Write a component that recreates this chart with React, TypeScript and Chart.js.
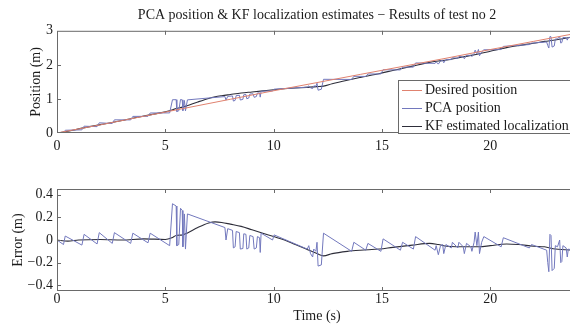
import React, { useEffect, useRef } from 'react';
import { Chart, registerables } from 'chart.js';

Chart.register(...registerables);

// ---------- texts ----------
const titleText = 'PCA position & KF localization estimates \u2212 Results of test no 2';
const seriesNames = ['Desired position', 'PCA position', 'KF estimated localization'];
const positionAxisTitle = 'Position (m)';
const errorAxisTitle = 'Error (m)';
const timeAxisTitle = 'Time (s)';

// ---------- ticks ----------
const timeTicks = [0, 5, 10, 15, 20];
const positionTicks = [0, 1, 2, 3];
const positionTickLabels = ['0', '1', '2', '3'];
const errorTicks = [-0.4, -0.2, 0, 0.2, 0.4];
const errorTickLabels = ['\u22120.4', '\u22120.2', '0', '0.2', '0.4'];

// ---------- data ----------
const desiredTimes = [0, 2, 4, 6, 8, 10, 12, 14, 16, 18, 20, 22, 24];
const desiredPositions = [0, 0.24, 0.49, 0.74, 0.99, 1.24, 1.48, 1.72, 1.96, 2.2, 2.45, 2.69, 2.93];

// PCA position error (PCA - desired)
const pcaErrTimes = [
  0, 0.3, 0.38, 1.15, 1.25, 1.85, 1.95, 2.55, 2.65, 3.4, 3.5, 4.2, 4.3, 5.2,
  5.33, 5.5, 5.53, 5.62, 5.7, 5.78, 5.81, 5.88, 5.93, 6.02, 7.75, 7.8, 7.88,
  8.1, 8.14, 8.22, 8.27, 8.42, 8.46, 8.58, 8.62, 8.72, 8.76, 8.85, 8.9, 9.05,
  9.1, 9.2, 9.25, 9.35, 9.38, 9.42, 9.95, 10.02, 11.55, 11.62, 11.7, 11.8,
  11.85, 11.95, 12.0, 12.05, 12.2, 12.3, 13.6, 13.7, 14.25, 14.35, 14.95,
  15.05, 15.85, 15.95, 16.45, 16.55, 17.45, 17.5, 17.6, 17.7, 17.8, 17.85,
  17.95, 18.2, 18.25, 18.5, 18.55, 18.75, 18.8, 18.9, 19.1, 19.15, 19.25,
  19.3, 19.38, 19.45, 19.5, 19.6, 19.7, 20.5, 20.6, 21.8, 21.9, 22.6, 22.65,
  22.7, 22.75, 22.8, 22.85, 22.95, 23.0, 23.1, 23.2, 23.25, 23.3, 23.35,
  23.5, 23.55, 23.6, 24,
];
const pcaErrValues = [
  0, -0.04, 0.035, -0.045, 0.05, -0.035, 0.065, -0.03, 0.065, -0.03, 0.06, -0.025, 0.06, -0.05,
  0.32, 0.3, -0.05, -0.04, 0.28, 0.26, -0.06, 0.23, -0.08, 0.23, 0.11, 0.0, 0.1,
  0.085, -0.07, -0.06, 0.075, 0.065, -0.08, -0.075, 0.055, 0.05, -0.08, -0.07, 0.04, 0.03,
  -0.08, -0.07, 0.03, 0.02, -0.11, 0.06, 0.0, 0.045, -0.08, -0.05, -0.12, -0.15,
  -0.08, -0.1, -0.02, -0.23, -0.22, 0.06, -0.1, -0.02, -0.09, -0.03, -0.1,
  0.01, -0.09, -0.02, -0.08, 0.03, -0.09, -0.05, -0.13, -0.05, -0.04, -0.12,
  -0.04, -0.07, -0.02, -0.07, -0.02, -0.06, -0.12, -0.03, -0.06, -0.1, -0.02,
  0.07, -0.05, 0.07, -0.12, -0.02, 0.03, -0.06, 0.02, -0.07, -0.04, -0.09, -0.2,
  -0.28, 0.05, 0.04, -0.27, -0.25, -0.05, -0.06, 0.0, -0.2, -0.19, -0.05,
  -0.07, -0.15, -0.08, -0.1,
];

// KF estimate error (KF - desired)
const kfErrTimes = [
  0, 0.5, 1, 2, 3, 4, 5, 5.3, 5.5, 5.8, 6.0, 6.5, 7.0, 7.3, 7.6, 8.0, 8.5, 9.0,
  9.5, 10.0, 10.5, 11.0, 11.5, 12.0, 12.3, 12.7, 13.4, 14.0, 14.9, 15.5, 16.4,
  17.2, 17.6, 18.0, 19.0, 19.5, 20.0, 20.75, 21.3, 22.0, 22.5, 23.0, 24,
];
const kfErrValues = [
  0, -0.01, 0.0, 0.005, 0.0, 0.01, 0.005, 0.02, 0.04, 0.045, 0.06, 0.11, 0.15, 0.16, 0.155, 0.14, 0.12, 0.09,
  0.06, 0.03, 0.0, -0.04, -0.08, -0.12, -0.14, -0.12, -0.1, -0.09, -0.08, -0.065, -0.045,
  -0.03, -0.04, -0.055, -0.06, -0.06, -0.05, -0.035, -0.04, -0.055, -0.06, -0.08, -0.09,
];

// ---------- styles ----------
const FONT = '"Liberation Serif", "Times New Roman", serif';
const TEXT = '#1c1c1c';
const FRAME = '#6a6a6a';
const C_DESIRED = '#e0826f';
const C_PCA = '#7278bd';
const C_KF = '#2e2e3a';

function desiredAt(t: number): number {
  for (let i = 0; i < desiredTimes.length - 1; i++) {
    if (t <= desiredTimes[i + 1]) {
      const f = (t - desiredTimes[i]) / (desiredTimes[i + 1] - desiredTimes[i]);
      return desiredPositions[i] + f * (desiredPositions[i + 1] - desiredPositions[i]);
    }
  }
  return desiredPositions[desiredPositions.length - 1];
}

const framePlugin = {
  id: 'frame',
  afterDatasetsDraw(chart: any) {
    const { ctx, chartArea: a, scales } = chart;
    ctx.save();
    ctx.strokeStyle = FRAME;
    ctx.lineWidth = 1;
    ctx.strokeRect(a.left + 0.5, a.top + 0.5, a.right - a.left - 1, a.bottom - a.top - 1);
    const tl = 4;
    ctx.beginPath();
    scales.x.ticks.forEach((t: any) => {
      const px = Math.round(scales.x.getPixelForValue(t.value)) + 0.5;
      if (px <= a.left + 1 || px >= a.right - 1) return;
      ctx.moveTo(px, a.top);
      ctx.lineTo(px, a.top + tl);
      ctx.moveTo(px, a.bottom);
      ctx.lineTo(px, a.bottom - tl);
    });
    scales.y.ticks.forEach((t: any) => {
      const py = Math.round(scales.y.getPixelForValue(t.value)) + 0.5;
      if (py <= a.top + 1 || py >= a.bottom - 1) return;
      ctx.moveTo(a.left, py);
      ctx.lineTo(a.left + tl, py);
    });
    ctx.stroke();
    ctx.restore();
  },
};

const legendPlugin = {
  id: 'boxLegend',
  afterDraw(chart: any, _args: any, opts: any) {
    if (!opts || !opts.show) return;
    const { ctx } = chart;
    ctx.save();
    ctx.fillStyle = '#fff';
    ctx.fillRect(opts.x, opts.y, opts.w, opts.h);
    ctx.strokeStyle = FRAME;
    ctx.lineWidth = 1;
    ctx.strokeRect(opts.x + 0.5, opts.y + 0.5, opts.w, opts.h);
    ctx.font = `14px ${FONT}`;
    ctx.textBaseline = 'middle';
    ctx.textAlign = 'left';
    chart.data.datasets.forEach((ds: any, i: number) => {
      const cy = opts.y + opts.firstRow + i * opts.rowGap;
      ctx.strokeStyle = ds.borderColor;
      ctx.beginPath();
      ctx.moveTo(opts.x + 4, cy + 0.5);
      ctx.lineTo(opts.x + 24, cy + 0.5);
      ctx.stroke();
      ctx.fillStyle = TEXT;
      ctx.fillText(ds.label, opts.x + 27, cy);
    });
    ctx.restore();
  },
};

function fixedTicks(values: number[]) {
  return (s: any) => {
    s.ticks = values.map((v) => ({ value: v }));
  };
}

export default function App() {
  const topRef = useRef<HTMLCanvasElement>(null);
  const botRef = useRef<HTMLCanvasElement>(null);

  useEffect(() => {
    const tickFont = { family: FONT, size: 14 };
    const desiredData = desiredTimes.map((t, i) => ({ x: t, y: desiredPositions[i] }));
    const pcaData = pcaErrTimes.map((t, i) => ({ x: t, y: desiredAt(t) + pcaErrValues[i] }));
    const kfData = kfErrTimes.map((t, i) => ({ x: t, y: desiredAt(t) + kfErrValues[i] }));
    const pcaErrData = pcaErrTimes.map((t, i) => ({ x: t, y: pcaErrValues[i] }));
    const kfErrData = kfErrTimes.map((t, i) => ({ x: t, y: kfErrValues[i] }));

    const top = new Chart(topRef.current!, {
      type: 'line',
      data: {
        datasets: [
          { label: seriesNames[0], data: desiredData, borderColor: C_DESIRED, borderWidth: 1, pointRadius: 0 },
          { label: seriesNames[1], data: pcaData, borderColor: C_PCA, borderWidth: 1, pointRadius: 0 },
          { label: seriesNames[2], data: kfData, borderColor: C_KF, borderWidth: 1.1, pointRadius: 0, cubicInterpolationMode: 'monotone' },
        ],
      },
      options: {
        animation: false,
        responsive: false,
        maintainAspectRatio: false,
        layout: { padding: { top: 7, left: 0, right: 3, bottom: 0 } },
        plugins: {
          legend: { display: false },
          tooltip: { enabled: false },
          title: {
            display: true,
            text: titleText,
            fullSize: false,
            color: TEXT,
            font: { family: FONT, size: 14, weight: 'normal' },
            padding: { top: 0, bottom: 7 },
          },
          boxLegend: { show: true, x: 398, y: 80, w: 200, h: 53, firstRow: 10, rowGap: 18 },
        } as any,
        scales: {
          x: {
            type: 'linear',
            min: 0,
            max: 24,
            afterBuildTicks: fixedTicks(timeTicks),
            afterFit: (s: any) => { s.height = 27; },
            ticks: { font: tickFont, color: TEXT, padding: 5, maxRotation: 0, autoSkip: false },
            grid: { display: false, drawTicks: false },
            border: { display: false },
          },
          y: {
            type: 'linear',
            min: 0,
            max: 3,
            afterBuildTicks: fixedTicks(positionTicks),
            afterFit: (s: any) => { s.width = 57; },
            ticks: {
              font: tickFont,
              color: TEXT,
              padding: 4,
              callback: (v: any) => positionTickLabels[positionTicks.indexOf(Number(v))] ?? '',
            },
            grid: { display: false, drawTicks: false },
            border: { display: false },
            title: { display: true, text: positionAxisTitle, color: TEXT, font: { family: FONT, size: 14 }, padding: { top: 28, bottom: 0 } },
          },
        },
      },
      plugins: [framePlugin, legendPlugin],
    } as any);

    const bot = new Chart(botRef.current!, {
      type: 'line',
      data: {
        datasets: [
          { label: seriesNames[1], data: pcaErrData, borderColor: C_PCA, borderWidth: 1, pointRadius: 0 },
          { label: seriesNames[2], data: kfErrData, borderColor: C_KF, borderWidth: 1.1, pointRadius: 0, cubicInterpolationMode: 'monotone' },
        ],
      },
      options: {
        animation: false,
        responsive: false,
        maintainAspectRatio: false,
        layout: { padding: { top: 29, left: 0, right: 3, bottom: 0 } },
        plugins: {
          legend: { display: false },
          tooltip: { enabled: false },
          title: { display: false },
          boxLegend: { show: false },
        } as any,
        scales: {
          x: {
            type: 'linear',
            min: 0,
            max: 24,
            afterBuildTicks: fixedTicks(timeTicks),
            afterFit: (s: any) => { s.height = 36; },
            ticks: { font: tickFont, color: TEXT, padding: 0, maxRotation: 0, autoSkip: false },
            grid: { display: false, drawTicks: false },
            border: { display: false },
            title: { display: true, text: timeAxisTitle, color: TEXT, font: { family: FONT, size: 14 }, padding: { top: 0, bottom: 2 } },
          },
          y: {
            type: 'linear',
            min: -0.45,
            max: 0.45,
            afterBuildTicks: fixedTicks(errorTicks),
            afterFit: (s: any) => { s.width = 57; },
            ticks: {
              font: tickFont,
              color: TEXT,
              padding: 4,
              callback: (v: any) => {
                const idx = errorTicks.findIndex((e) => Math.abs(e - Number(v)) < 1e-9);
                return idx >= 0 ? errorTickLabels[idx] : '';
              },
            },
            grid: { display: false, drawTicks: false },
            border: { display: false },
            title: { display: true, text: errorAxisTitle, color: TEXT, font: { family: FONT, size: 14 }, padding: { top: 10, bottom: 0 } },
          },
        },
      },
      plugins: [framePlugin],
    } as any);

    return () => {
      top.destroy();
      bot.destroy();
    };
  }, []);

  return (
    <div style={{ position: 'fixed', left: 0, top: 0, width: 570, height: 327, overflow: 'hidden', background: '#fff' }}>
      <canvas ref={topRef} width={580} height={160} style={{ position: 'absolute', left: 0, top: 0, width: 580, height: 160, display: 'block' }} />
      <canvas ref={botRef} width={580} height={167} style={{ position: 'absolute', left: 0, top: 160, width: 580, height: 167, display: 'block' }} />
    </div>
  );
}
